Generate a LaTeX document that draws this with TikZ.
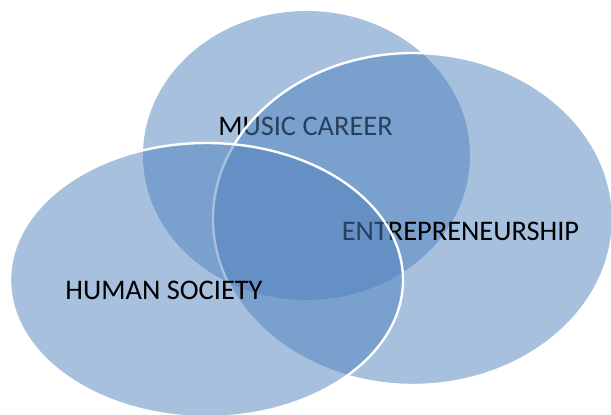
\documentclass[tikz,border=0pt]{standalone}
\usepackage{fontspec}
\setmainfont{Carlito}
\usetikzlibrary{positioning}

\definecolor{vennblue}{RGB}{79,129,189}
\tikzset{
  venn/.style={fill=vennblue,fill opacity=0.5},
  vennline/.style={draw=white,line width=1.2pt},
  lbl/.style={inner sep=0pt,text=black,font=\fontsize{14.2}{17}\selectfont}
}

\begin{document}
\begin{tikzpicture}[x=0.5pt,y=-0.5pt]
    \useasboundingbox(0,0)rectangle(611,414);
    % music career
    \fill[venn](306.5,155.5)ellipse[x radius=163.5,y radius=144.5];
    \node[lbl](music)at(305.5,126){MUSIC CAREER};
    % entrepreneurship
    \fill[venn](413,219)ellipse[x radius=200,y radius=166];
    \draw[vennline](413,219)ellipse[x radius=200,y radius=166];
    \node[lbl](entre)at(460.5,231){ENTREPRENEURSHIP};
    % human society
    \fill[venn](206.5,280)ellipse[x radius=196.5,y radius=137];
    \draw[vennline](206.5,280)ellipse[x radius=196.5,y radius=137];
    \node[lbl](human)at(164,290){HUMAN SOCIETY};
\end{tikzpicture}
\end{document}
